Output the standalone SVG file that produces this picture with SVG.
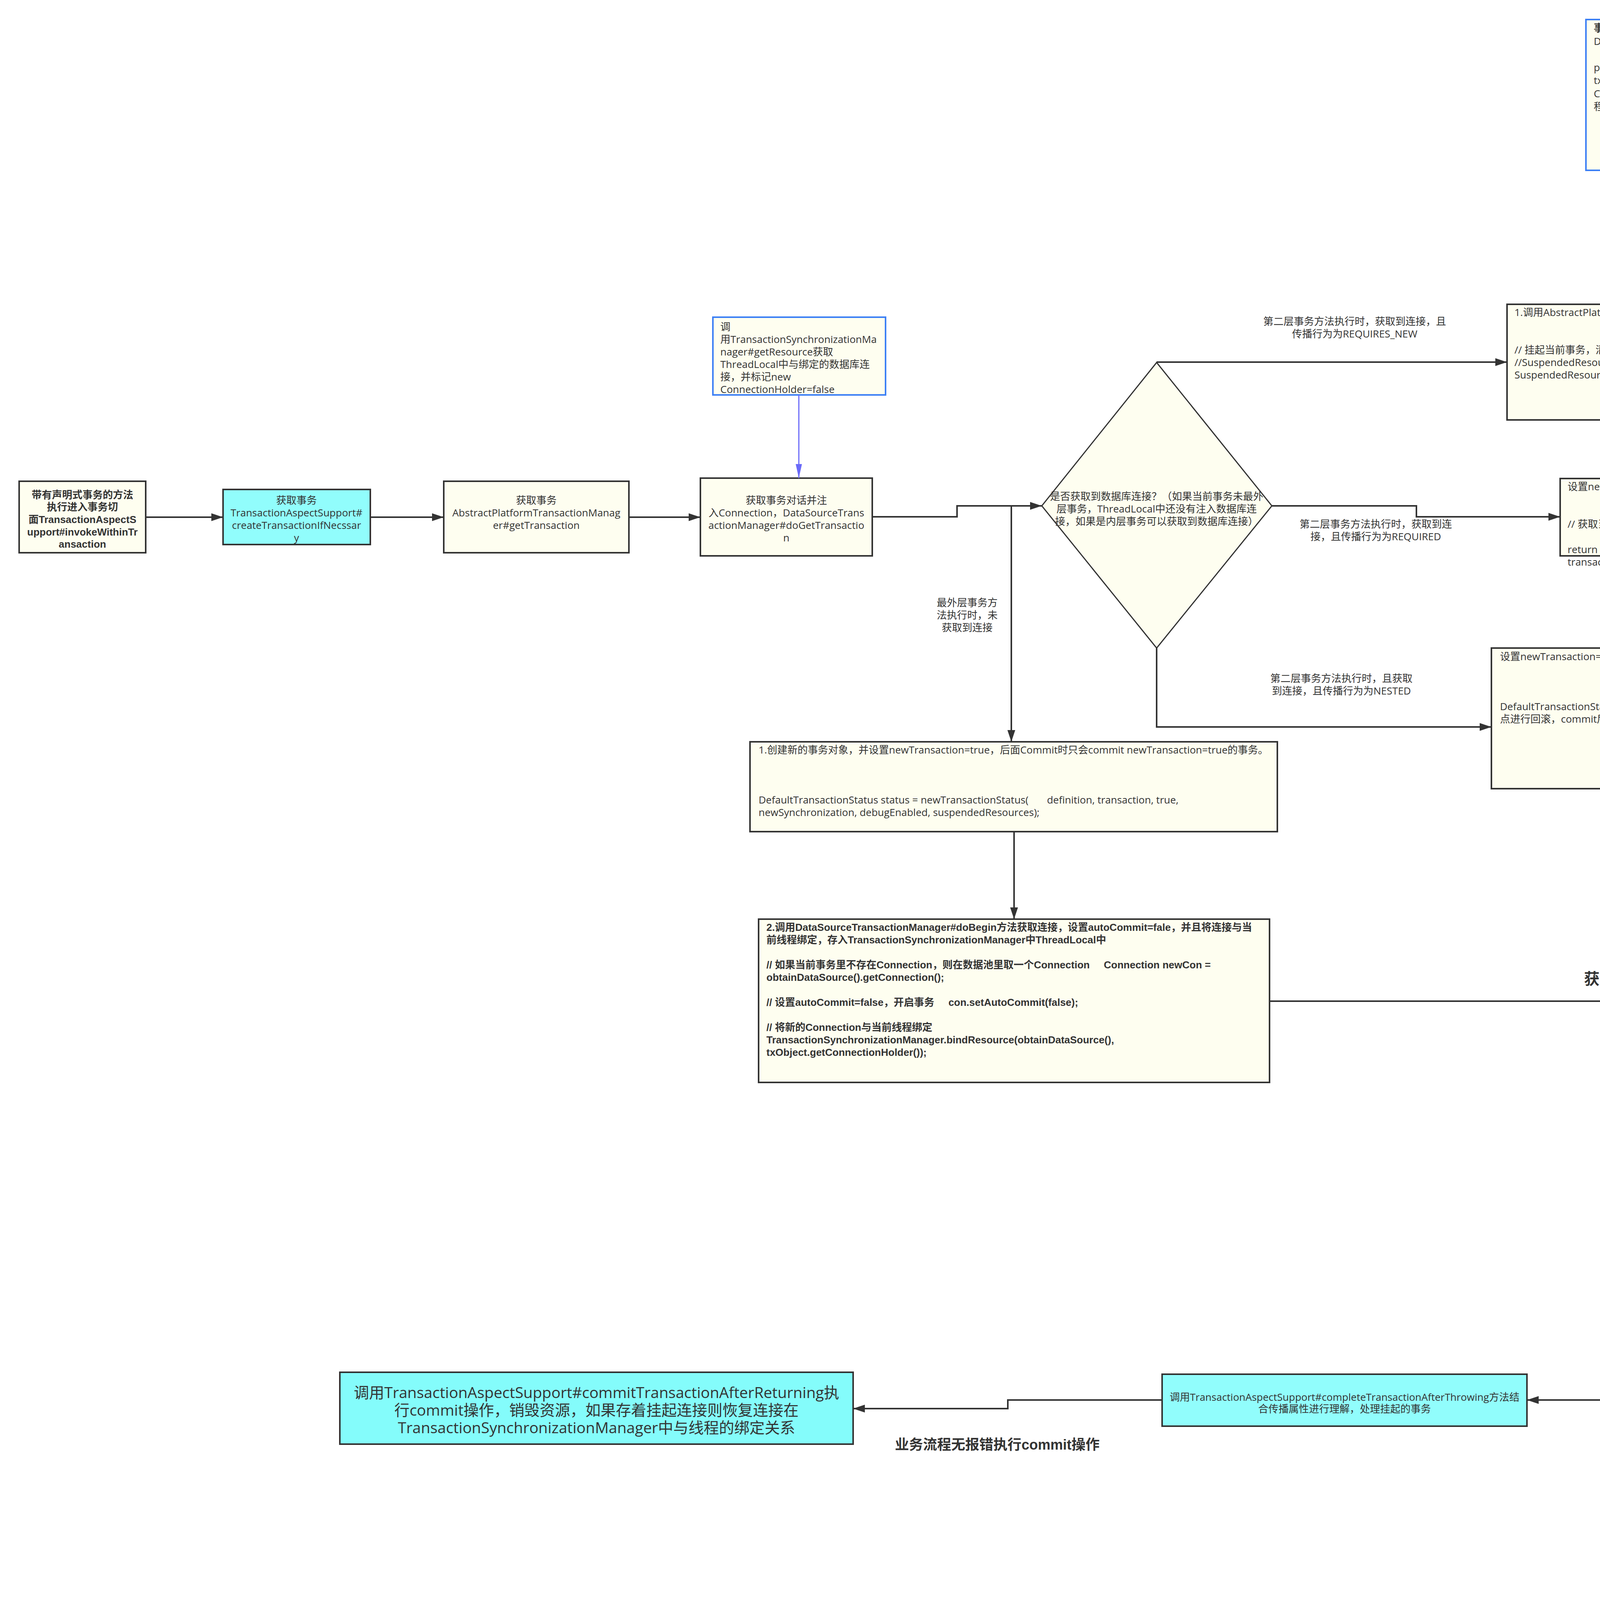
<svg xmlns="http://www.w3.org/2000/svg" width="7270" height="4857" viewBox="0 0 7270 4857">
<style>
.t{font-family:"Open Sans","Noto Sans CJK SC",sans-serif;font-size:26px;fill:#333}
.tb{font-family:"Liberation Sans","Noto Sans CJK SC",sans-serif;font-weight:700;fill:#333}
.m{text-anchor:middle}
.box{fill:#fefef0;stroke:#333;stroke-width:4}
.cy{fill:#91fdfc;stroke:#333;stroke-width:4}
.bl{fill:#fefef0;stroke:#3d80f5;stroke-width:4}
.dia{fill:#fefef0;stroke:#333;stroke-width:3}
.c{fill:none;stroke:#333;stroke-width:4}
.cb1{fill:none;stroke:#6a6af8;stroke-width:3}
.cb2{fill:none;stroke:#3d80f5;stroke-width:3}
</style>
<defs>
<marker id="ah" markerUnits="userSpaceOnUse" viewBox="0 0 30 20" refX="30" refY="10" markerWidth="30" markerHeight="20" orient="auto"><path d="M0,0 L30,10 L0,20 z" fill="#333"/></marker>
<marker id="ab1" markerUnits="userSpaceOnUse" viewBox="0 0 36 16" refX="36" refY="8" markerWidth="36" markerHeight="16" orient="auto"><path d="M0,0 L36,8 L0,16 z" fill="#6a6af8"/></marker>
<marker id="ab2" markerUnits="userSpaceOnUse" viewBox="0 0 36 16" refX="36" refY="8" markerWidth="36" markerHeight="16" orient="auto"><path d="M0,0 L36,8 L0,16 z" fill="#3d80f5"/></marker>
</defs>
<rect width="7270" height="4857" fill="#fff"/>
<g id="n-entry">
<rect x="49" y="1232" width="324" height="183" class="box"/>
<text class="tb m" font-size="26"><tspan x="211" y="1276">带有声明式事务的方法</tspan><tspan x="211" y="1307">执行进入事务切</tspan><tspan x="211" y="1339">面TransactionAspectS</tspan><tspan x="211" y="1371">upport#invokeWithinTr</tspan><tspan x="211" y="1402">ansaction</tspan></text>
</g>
<g id="n-create">
<rect x="571" y="1253" width="377" height="141" class="cy"/>
<text class="t m"><tspan x="759" y="1290">获取事务</tspan><tspan x="759" y="1322">TransactionAspectSupport#</tspan><tspan x="759" y="1354">createTransactionIfNecssar</tspan><tspan x="759" y="1386">y</tspan></text>
</g>
<g id="n-gettx">
<rect x="1136" y="1232" width="474" height="183" class="box"/>
<text class="t m"><tspan x="1373" y="1290">获取事务</tspan><tspan x="1373" y="1322">AbstractPlatformTransactionManag</tspan><tspan x="1373" y="1354">er#getTransaction</tspan></text>
</g>
<g id="n-dogettx">
<rect x="1793" y="1224" width="440" height="199" class="box"/>
<text class="t m"><tspan x="2013" y="1290">获取事务对话并注</tspan><tspan x="2013" y="1322">入Connection，DataSourceTrans</tspan><tspan x="2013" y="1354">actionManager#doGetTransactio</tspan><tspan x="2013" y="1386">n</tspan></text>
</g>
<g id="n-getresource">
<rect x="1825" y="812" width="442" height="199" class="bl"/>
<text class="t"><tspan x="1844" y="846">调</tspan><tspan x="1844" y="878">用TransactionSynchronizationMa</tspan><tspan x="1844" y="910">nager#getResource获取</tspan><tspan x="1844" y="942">ThreadLocal中与绑定的数据库连</tspan><tspan x="1844" y="974">接，并标记new</tspan><tspan x="1844" y="1006">ConnectionHolder=false</tspan></text>
</g>
<g id="n-decision">
<polygon points="2961,928 3256,1295 2961,1659 2667,1295" class="dia"/>
<text class="t m"><tspan x="2961" y="1280">是否获取到数据库连接？（如果当前事务未最外</tspan><tspan x="2961" y="1312">层事务，ThreadLocal中还没有注入数据库连</tspan><tspan x="2961" y="1344">接，如果是内层事务可以获取到数据库连接）</tspan></text>
</g>
<g id="n-principle">
<rect x="4060" y="50" width="1216" height="386" class="bl"/>
<text class="t" xml:space="preserve"><tspan x="4080" y="81" font-weight="700">事务挂起的原理</tspan><tspan x="4080" y="115">DataSourceTransactionManager.class</tspan><tspan x="4080" y="182">protected Object doSuspend(Object transaction) {  DataSourceTransactionObject</tspan><tspan x="4080" y="215">txObject = (DataSourceTransactionObject) transaction;  // 将当前方法Transaction中的</tspan><tspan x="4080" y="249">Connection置空  txObject.setConnectionHolder(null);  // 将上层事务的Connection与当前线</tspan><tspan x="4080" y="282">程解绑   return TransactionSynchronizationManager.unbindResource(obtainDataSource()); }</tspan></text>
</g>
<g id="n-suspend">
<rect x="3858" y="779" width="1620" height="296" class="box"/>
<text class="t"><tspan x="3877" y="809">1.调用AbstractPlatformTransactionManager#suspend挂起当前事务</tspan><tspan x="3877" y="905">// 挂起当前事务，清空当前事务中Connection与当前线程在TransactionSynchronizationManager中ThreadLocal中的绑定关系</tspan><tspan x="3877" y="937">//SuspendedResourcesHolder 上层事务切面中的Connection，刚刚被清除挂起的那个</tspan><tspan x="3877" y="969">SuspendedResourcesHolder suspendedResources = suspend(transaction);</tspan></text>
</g>
<g id="n-dobegin-new">
<rect x="5852" y="723" width="1310" height="417" class="box"/>
<text class="t" xml:space="preserve"><tspan x="5872" y="754">2.调用DataSourceTransactionManager#doBegin方法获取连接，设置autoCommit=fale，并且将连接与当前</tspan><tspan x="5872" y="786">线程绑定，存入TransactionSynchronizationManager中ThreadLocal中</tspan><tspan x="5872" y="849">// 如果当前事务里不存在Connection，则在数据池里取一个Connection     Connection newCon =</tspan><tspan x="5872" y="881">obtainDataSource().getConnection();</tspan><tspan x="5872" y="944">// 设置autoCommit=false，开启事务     con.setAutoCommit(false);</tspan><tspan x="5872" y="1007">// 将新的Connection与当前线程绑定</tspan><tspan x="5872" y="1071">TransactionSynchronizationManager.bindResource(obtainDataSource(), txObject.getConnectionHolder());</tspan></text>
</g>
<g id="n-required">
<rect x="3994" y="1225" width="2115" height="198" class="box"/>
<text class="t"><tspan x="4013" y="1255">设置newTransaction=false，后面commit时只会commit newTransaction=true的事务</tspan><tspan x="4013" y="1351">// 获取当前方法事务的及时状态对象，设置newTransaction=false，后面commit时只会commit newTransaction=true的事务</tspan><tspan x="4013" y="1416">return prepareTransactionStatus(definition,</tspan><tspan x="4013" y="1448">transaction, false, newSynchronization, debugEnabled, null);</tspan></text>
</g>
<g id="n-nested">
<rect x="3818" y="1659" width="2034" height="360" class="box"/>
<text class="t" xml:space="preserve"><tspan x="3840" y="1690">设置newTransaction=fasle，  为Connection设置保存点，后面rollback是如果有保存点的时候，利用保存点进行回滚，commit后清除保存点（利用保存点做为回滚点回滚）</tspan><tspan x="3840" y="1818">DefaultTransactionStatus status =prepareTransactionStatus(definition, transaction, false, false, debugEnabled, null);    // 设置保存点，如果有保存点的时候，利用保存</tspan><tspan x="3840" y="1850">点进行回滚，commit后清除保存点（利用保存点做为回滚点回滚）     status.createAndHoldSavepoint();     return status;</tspan></text>
</g>
<g id="n-newtx">
<rect x="1920" y="1899" width="1350" height="230" class="box"/>
<text class="t" xml:space="preserve"><tspan x="1942" y="1929">1.创建新的事务对象，并设置newTransaction=true，后面Commit时只会commit newTransaction=true的事务。</tspan><tspan x="1942" y="2057">DefaultTransactionStatus status = newTransactionStatus(       definition, transaction, true,</tspan><tspan x="1942" y="2089">newSynchronization, debugEnabled, suspendedResources);</tspan></text>
</g>
<g id="n-dobegin">
<rect x="1942" y="2353" width="1308" height="418" class="box"/>
<text class="tb" font-size="26" xml:space="preserve"><tspan x="1962" y="2383">2.调用DataSourceTransactionManager#doBegin方法获取连接，设置autoCommit=fale，并且将连接与当</tspan><tspan x="1962" y="2415">前线程绑定，存入TransactionSynchronizationManager中ThreadLocal中</tspan><tspan x="1962" y="2479">// 如果当前事务里不存在Connection，则在数据池里取一个Connection     Connection newCon =</tspan><tspan x="1962" y="2511">obtainDataSource().getConnection();</tspan><tspan x="1962" y="2575">// 设置autoCommit=false，开启事务     con.setAutoCommit(false);</tspan><tspan x="1962" y="2639">// 将新的Connection与当前线程绑定</tspan><tspan x="1962" y="2671">TransactionSynchronizationManager.bindResource(obtainDataSource(),</tspan><tspan x="1962" y="2703">txObject.getConnectionHolder());</tspan></text>
</g>
<g id="n-invoke">
<rect x="5345" y="2446" width="1101" height="368" class="cy"/>
<text class="tb m" font-size="47" x="5896" y="2626">执行业务方法</text>
<text class="t m" style="font-size:47px" x="5896" y="2684">retVal = invocation.proceedWithInvocation();</text>
</g>
<g id="n-exception">
<polygon points="5895,3343 6132,3558 5895,3773 5659,3558" class="dia"/>
<text class="tb m" font-size="40" x="5895" y="3581">是否发生异常</text>
</g>
<g id="n-complete-ok">
<rect x="2975" y="3518" width="934" height="133" class="cy"/>
<text class="t m"><tspan x="3442" y="3586">调用TransactionAspectSupport#completeTransactionAfterThrowing方法结</tspan><tspan x="3442" y="3616">合传播属性进行理解，处理挂起的事务</tspan></text>
</g>
<g id="n-commit">
<rect x="870" y="3513" width="1314" height="184" fill="#84fcfb" stroke="#333" stroke-width="4"/>
<text class="t m" style="font-size:39px"><tspan x="1527" y="3579">调用TransactionAspectSupport#commitTransactionAfterReturning执</tspan><tspan x="1527" y="3624">行commit操作，销毁资源，如果存着挂起连接则恢复连接在</tspan><tspan x="1527" y="3669">TransactionSynchronizationManager中与线程的绑定关系</tspan></text>
</g>
<g id="n-rollback">
<rect x="5659" y="4555" width="808" height="162" class="cy"/>
<text class="t"><tspan x="5680" y="4585">调</tspan><tspan x="5680" y="4617">用TransactionAspectSupport#completeTransactionAfterThrowi</tspan><tspan x="5680" y="4649">ng回滚事务，关闭销毁资源，如果存着挂起连接则恢复连接在</tspan><tspan x="5680" y="4681">TransactionSynchronizationManager中与线程的绑定关系</tspan></text>
</g>
<g id="n-complete-err">
<rect x="3135" y="4576" width="943" height="154" class="cy"/>
<text class="t m"><tspan x="3607" y="4652">调用TransactionAspectSupport#completeTransactionAfterThrowing方法结</tspan><tspan x="3607" y="4682">合传播属性进行理解，处理挂起的事务</tspan></text>
</g>
<g id="n-throw">
<rect x="935" y="4650" width="934" height="159" class="box"/>
<text class="tb" font-size="40" x="951" y="4746">抛出异常结束当前方法</text>
</g>

<g id="connectors">
<path class="c" d="M373,1324 H571" marker-end="url(#ah)"/>
<path class="c" d="M948,1324 H1136" marker-end="url(#ah)"/>
<path class="c" d="M1610,1324 H1793" marker-end="url(#ah)"/>
<path class="c" d="M2233,1323 H2450 V1295 H2667" marker-end="url(#ah)"/>
<path class="c" d="M2667,1295 H2589 V1899" marker-end="url(#ah)"/>
<path class="c" d="M2596,2129 V2353" marker-end="url(#ah)"/>
<path class="c" d="M3250,2563 H4297 V2629 H5345" marker-end="url(#ah)"/>
<path class="c" d="M2961,927 H3858" marker-end="url(#ah)"/>
<path class="c" d="M3256,1295 H3626 V1323 H3994" marker-end="url(#ah)"/>
<path class="c" d="M2961,1659 V1861 H3818" marker-end="url(#ah)"/>
<path class="c" d="M5478,927 H5852" marker-end="url(#ah)"/>
<path class="c" d="M7162,930 H7221 V2629 H6446" marker-end="url(#ah)"/>
<path class="c" d="M6109,1323 H6166 V2385 H5896 V2446" marker-end="url(#ah)"/>
<path class="c" d="M5852,1838 H5896 V2446" marker-end="url(#ah)"/>
<path class="c" d="M5896,2814 V3343" marker-end="url(#ah)"/>
<path class="c" d="M5659,3558 H4785 V3584 H3909" marker-end="url(#ah)"/>
<path class="c" d="M2975,3584 H2580 V3606 H2184" marker-end="url(#ah)"/>
<path class="c" d="M5895,3773 V4164 H6063 V4555" marker-end="url(#ah)"/>
<path class="c" d="M5659,4636 H4868 V4653 H4078" marker-end="url(#ah)"/>
<path class="c" d="M3135,4653 H2502 V4729 H1869" marker-end="url(#ah)"/>
<path class="cb1" d="M2045,1011 V1224" marker-end="url(#ab1)"/>
<path class="cb2" d="M4667,436 V779" marker-end="url(#ab2)"/>
</g>

<g id="labels">
<text class="t m"><tspan x="3468" y="832">第二层事务方法执行时，获取到连接，且</tspan><tspan x="3468" y="864">传播行为为REQUIRES_NEW</tspan></text>
<text class="t m"><tspan x="3522" y="1351">第二层事务方法执行时，获取到连</tspan><tspan x="3522" y="1383">接，且传播行为为REQUIRED</tspan></text>
<text class="t m"><tspan x="2476" y="1552">最外层事务方</tspan><tspan x="2476" y="1584">法执行时，未</tspan><tspan x="2476" y="1616">获取到连接</tspan></text>
<text class="t m"><tspan x="3434" y="1746">第二层事务方法执行时，且获取</tspan><tspan x="3434" y="1778">到连接，且传播行为为NESTED</tspan></text>
<text class="tb m" font-size="40" x="4315" y="2520">获取到事务后，执行业务方法</text>
<text class="tb m" font-size="36"><tspan x="6006" y="1938">获</tspan><tspan x="6006" y="1980">取</tspan><tspan x="6006" y="2022">到</tspan><tspan x="6006" y="2064">事</tspan><tspan x="6006" y="2106">务</tspan><tspan x="6006" y="2148">后</tspan><tspan x="6006" y="2190">执</tspan><tspan x="6006" y="2232">行</tspan><tspan x="6006" y="2274">业</tspan><tspan x="6006" y="2316">务</tspan><tspan x="6006" y="2358">方</tspan><tspan x="6006" y="2400">法</tspan></text>
<text class="tb m" font-size="36"><tspan x="7168" y="1658">获</tspan><tspan x="7168" y="1701">取</tspan><tspan x="7168" y="1744">到</tspan><tspan x="7168" y="1787">事</tspan><tspan x="7168" y="1830">务</tspan><tspan x="7168" y="1873">后</tspan><tspan x="7168" y="1916">执</tspan><tspan x="7168" y="1959">行</tspan><tspan x="7168" y="2002">业</tspan><tspan x="7168" y="2045">务</tspan><tspan x="7168" y="2088">方</tspan><tspan x="7168" y="2131">法</tspan></text>
<text class="tb m" font-size="37" x="4868" y="3634">未发生异常，直接执行finallyl</text>
<text class="tb m" font-size="36" x="2553" y="3711">业务流程无报错执行commit操作</text>
<text class="tb m" font-size="36"><tspan x="5842" y="3944">发</tspan><tspan x="5842" y="3986">生</tspan><tspan x="5842" y="4028">异</tspan><tspan x="5842" y="4070">常</tspan><tspan x="5842" y="4112">，</tspan><tspan x="5842" y="4155">触</tspan><tspan x="5842" y="4197">发</tspan><tspan x="5842" y="4239">回</tspan><tspan x="5842" y="4281">滚</tspan></text>
<text class="tb m" font-size="35" x="5065" y="4730">回滚完成，执行finally逻辑</text>
</g>
</svg>
